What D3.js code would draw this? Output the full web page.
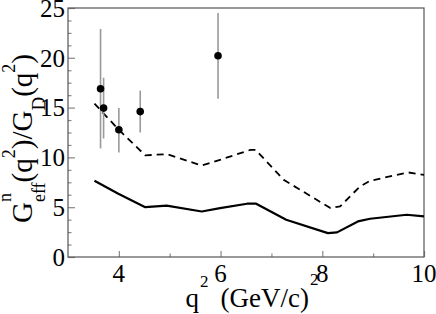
<!DOCTYPE html>
<html><head><meta charset="utf-8">
<script src="https://cdn.jsdelivr.net/npm/d3@7"></script>
<style>body{margin:0;background:#fff}svg{display:block}</style>
</head><body>
<svg id="c" width="436" height="314"></svg>
<script>
const solidX = [3.52, 3.99, 4.52, 4.94, 5.63, 5.99, 6.52, 6.7, 7.29, 8.11, 8.29, 8.7, 8.94, 9.66, 10.0];
const solidY = [7.65, 6.35, 5.0, 5.15, 4.57, 4.9, 5.35, 5.35, 3.74, 2.4, 2.47, 3.57, 3.84, 4.24, 4.07];
const dashX = [3.52, 4.0, 4.52, 4.94, 5.63, 5.99, 6.59, 6.69, 7.24, 8.16, 8.35, 8.74, 8.94, 9.69, 10.0];
const dashY = [15.4, 12.77, 10.2, 10.33, 9.19, 9.76, 10.76, 10.76, 7.75, 4.91, 5.08, 7.08, 7.65, 8.49, 8.25];
const ptX = [3.64, 3.70, 4.00, 4.42, 5.95];
const ptY = [16.9, 14.95, 12.77, 14.6, 20.2];
const errLo = [10.9, 11.9, 10.5, 12.5, 15.9];
const errHi = [22.9, 18.0, 14.95, 16.7, 24.5];
const xTicks = [4, 6, 8, 10];
const xMinor = [5, 7, 9];
const yTicks = [0, 5, 10, 15, 20, 25];
const yMinor = d3.range(0, 25.01, 1.25).filter(v => v % 5 !== 0);

const svg = d3.select("#c");
const FONT = '"Liberation Serif", "Times New Roman", serif';
const cv = document.createElement("canvas").getContext("2d");
cv.font = '25px "Liberation Serif"'; cv.measureText("GeV/c");

const L = 68, R = 424, T = 8, B = 257;
const x = d3.scaleLinear().domain([3, 10]).range([L, R]);
const y = d3.scaleLinear().domain([0, 25]).range([B, T]);

const axB = d3.axisBottom(x).tickValues(xTicks).tickSize(-6).tickFormat("");
const axBm = d3.axisBottom(x).tickValues(xMinor).tickSize(-3.5).tickFormat("");
const axL = d3.axisLeft(y).tickValues(yTicks).tickSize(-7).tickFormat("");
const axLm = d3.axisLeft(y).tickValues(yMinor).tickSize(-3.5).tickFormat("");
[[axB, `translate(0,${B})`], [axBm, `translate(0,${B})`], [axL, `translate(${L},0)`], [axLm, `translate(${L},0)`]].forEach(([a, t]) => {
  const g = svg.append("g").attr("transform", t).call(a);
  g.select(".domain").remove();
  g.selectAll("line").attr("stroke", "#888").attr("stroke-width", 1.2);
});

svg.append("rect").attr("x", L).attr("y", T).attr("width", R - L).attr("height", B - T)
  .attr("fill", "none").attr("stroke", "#555").attr("stroke-width", 1.2);

svg.append("g").selectAll("text").data(xTicks).join("text")
  .attr("x", d => x(d)).attr("y", 282).attr("text-anchor", "middle")
  .style("font-family", FONT).attr("font-size", 25).text(d => d);
svg.append("g").selectAll("text").data(yTicks).join("text")
  .attr("x", 65).attr("y", d => y(d)).attr("dy", "0.35em").attr("text-anchor", "end")
  .style("font-family", FONT).attr("font-size", 25).text(d => d);

const line = d3.line().x(d => x(d[0])).y(d => y(d[1]));
svg.append("path").datum(solidX.map((v, i) => [v, solidY[i]])).attr("d", line)
  .attr("fill", "none").attr("stroke", "#000").attr("stroke-width", 2.2).attr("stroke-linejoin", "round");
svg.append("path").datum(dashX.map((v, i) => [v, dashY[i]])).attr("d", line)
  .attr("fill", "none").attr("stroke", "#000").attr("stroke-width", 1.8).attr("stroke-dasharray", "7,5");

svg.append("g").selectAll("line").data(ptX).join("line")
  .attr("x1", d => x(d)).attr("x2", d => x(d))
  .attr("y1", (d, i) => y(errLo[i])).attr("y2", (d, i) => y(errHi[i]))
  .attr("stroke", "#999").attr("stroke-width", 1.6);
svg.append("g").selectAll("circle").data(ptX).join("circle")
  .attr("cx", d => x(d)).attr("cy", (d, i) => y(ptY[i])).attr("r", 3.8).attr("fill", "#000");

function rich(g, pieces) {
  let cx = 0, prevStart = 0;
  pieces.forEach(p => {
    const startX = p.stack ? prevStart : cx + (p.gap || 0);
    const el = g.append("text").attr("x", startX).attr("y", -(p.b || 0))
      .style("font-family", FONT).attr("font-size", p.s).text(p.t);
    const w = el.node().getComputedTextLength();
    if (p.stack) { cx = Math.max(cx, startX + w); }
    else { prevStart = startX; cx = startX + w; }
  });
  return cx;
}

const labels = svg.append("g");
function drawLabels() {
  labels.selectAll("*").remove();
  const yl = labels.append("g");
  const ylw = rich(yl, [
    {t: "G", s: 29}, {t: "n", s: 18, b: 21}, {t: "eff", s: 18, b: -13, stack: true},
    {t: "(q", s: 29}, {t: "2", s: 18, b: 17}, {t: ")/G", s: 29}, {t: "D", s: 19, b: -13},
    {t: "(q", s: 29}, {t: "2", s: 18, b: 17}, {t: ")", s: 29}
  ]);
  yl.attr("transform", `translate(32,${138.5 + ylw / 2}) rotate(-90)`);

  const xl = labels.append("g");
  const xlw = rich(xl, [
    {t: "q", s: 27}, {t: "2", s: 17, b: 20, gap: 1}, {t: "(GeV/c)", s: 27, gap: 12}, {t: "2", s: 17, b: 22, gap: 1}
  ]);
  xl.attr("transform", `translate(${252 - xlw / 2},307)`);
}
drawLabels();
if (document.fonts && document.fonts.load) {
  Promise.all([document.fonts.load('25px "Liberation Serif"'), document.fonts.ready])
    .then(drawLabels).catch(() => {});
}
</script>
</body></html>
